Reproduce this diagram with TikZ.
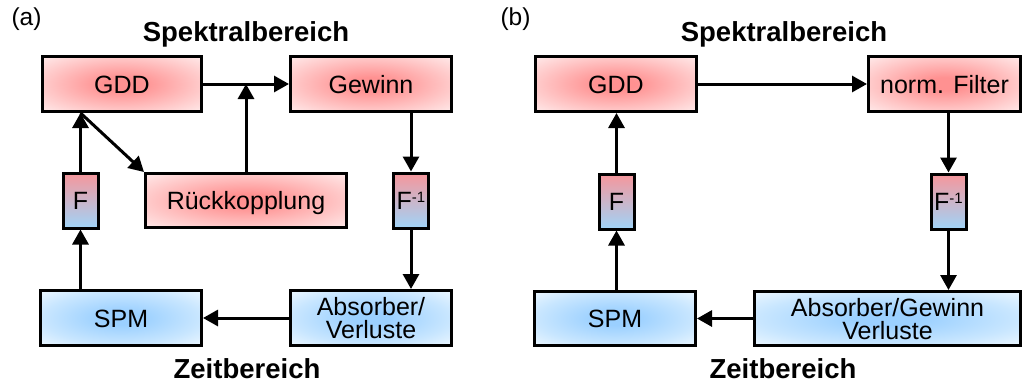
\documentclass[tikz,border=0pt]{standalone}
\usepackage{fontspec}
\setmainfont{Liberation Sans}
\usetikzlibrary{arrows.meta}
\definecolor{redc}{RGB}{255,145,145}
\definecolor{redm}{RGB}{255,200,200}
\definecolor{rede}{RGB}{255,236,236}
\definecolor{bluec}{RGB}{155,208,255}
\definecolor{bluem}{RGB}{200,230,255}
\definecolor{bluee}{RGB}{238,248,255}
\definecolor{ftop}{RGB}{246,150,155}
\definecolor{fbot}{RGB}{160,212,248}
\pgfdeclareradialshading{redsh}{\pgfpoint{0bp}{0bp}}{color(0bp)=(redc); color(6bp)=(redc); color(24bp)=(redm); color(36bp)=(rede); color(50bp)=(rede)}
\pgfdeclareradialshading{bluesh}{\pgfpoint{0bp}{0bp}}{color(0bp)=(bluec); color(6bp)=(bluec); color(24bp)=(bluem); color(36bp)=(bluee); color(50bp)=(bluee)}
\newcommand{\finv}{F\raisebox{7pt}{\fontsize{15}{15}\selectfont -1}}
\begin{document}
\begin{tikzpicture}[x=1pt,y=-1pt,
  box/.style={draw, line width=3pt, inner sep=0pt, font=\fontsize{25}{23}\selectfont, text height=18pt, text depth=0pt},
  redbox/.style={box, shading=redsh, minimum height=55pt},
  bluebox/.style={box, shading=bluesh, minimum height=55pt},
  twoline/.style={align=center, text height=41pt, text depth=0pt},
  fbox/.style={box, top color=ftop, bottom color=fbot, minimum width=35pt, minimum height=55pt},
  arr/.style={line width=3pt, -{Triangle[length=15pt,width=16pt]}},
  title/.style={font=\fontsize{27.5}{30}\selectfont\bfseries, anchor=base},
  lab/.style={font=\fontsize{24.5}{26}\selectfont, anchor=base west}]
\useasboundingbox (0,0) rectangle (1024,388);
% ---------- panel (a)
\node[lab] (la) at (8,25) {(a)};
\node[title] (sa) at (246,41) {Spektralbereich};
\node[title] (za) at (247,378) {Zeitbereich};
\node[redbox, minimum width=159pt] (gdda) at (122,84) {GDD};
\node[redbox, minimum width=161pt] (gew) at (371,84) {Gewinn};
\node[redbox, minimum width=201pt, minimum height=54pt] (rk) at (246,200.5) {Rückkopplung};
\node[fbox] (fa) at (80.5,200.5) {F};
\node[fbox] (fia) at (411,200.5) {\finv};
\node[bluebox, minimum width=161pt] (spma) at (121,318) {SPM};
\node[bluebox, twoline, minimum width=161pt] (absa) at (371,318) {Absorber/\\Verluste};
\coordinate (ga) at (fa.north |- gdda.south);
\draw[arr] (gdda.east) -- (gew.west);
\draw[arr] (rk.north) -- (rk.north |- gdda.east);
\draw[arr] (fa.north) -- (ga);
\draw[arr] (ga) -- (rk.north west);
\draw[arr] (gew.south -| fia) -- (fia.north);
\draw[arr] (fia.south) -- (fia.south |- absa.north);
\draw[arr] (absa.west) -- (spma.east);
\draw[arr] (spma.north -| fa) -- (fa.south);
% ---------- panel (b)
\node[lab] (lb) at (497,25) {(b)};
\node[title] (sb) at (784,41) {Spektralbereich};
\node[title] (zb) at (783,378) {Zeitbereich};
\node[redbox, minimum width=161pt] (gddb) at (616,84) {GDD};
\node[redbox, minimum width=152pt] (filt) at (944.5,84) {norm. Filter};
\node[fbox] (fb) at (616.5,201.5) {F};
\node[fbox] (fib) at (948.5,201.5) {\finv};
\node[bluebox, minimum width=161pt, minimum height=54pt] (spmb) at (615,318.5) {SPM};
\node[bluebox, twoline, minimum width=266pt, minimum height=54pt] (absb) at (887.5,318.5) {Absorber/Gewinn\\Verluste};
\draw[arr] (gddb.east) -- (filt.west);
\draw[arr] (filt.south -| fib) -- (fib.north);
\draw[arr] (fib.south) -- (fib.south |- absb.north);
\draw[arr] (absb.west) -- (spmb.east);
\draw[arr] (spmb.north -| fb) -- (fb.south);
\draw[arr] (fb.north) -- (fb.north |- gddb.south);
\end{tikzpicture}
\end{document}
